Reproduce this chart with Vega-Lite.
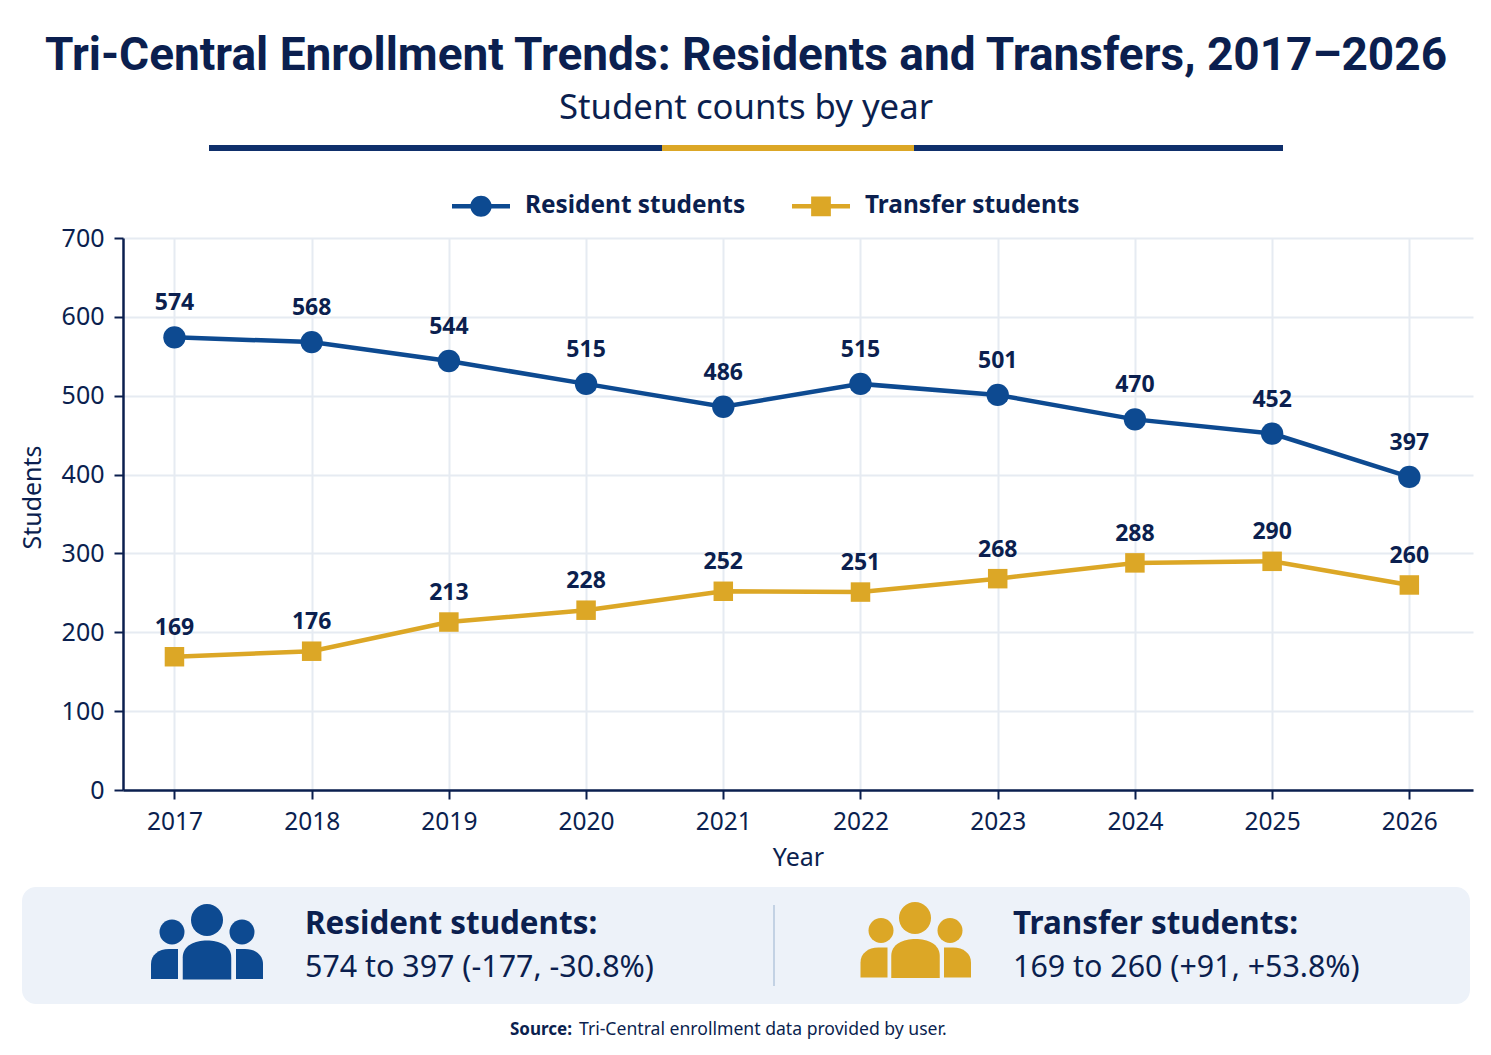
{"$schema":"https://vega.github.io/schema/vega-lite/v6.json","width":1350,"height":552,"autosize":"none","padding":{"left":123,"top":238,"right":18,"bottom":265},"background":"#ffffff","title":{"text":"Tri-Central Enrollment Trends: Residents and Transfers, 2017–2026","subtitle":"Student counts by year","anchor":"middle","frame":"group","dx":-52,"offset":18,"font":"Roboto","fontSize":46,"fontWeight":"bold","color":"#0b1f4f","subtitleFont":"Noto Sans","subtitleFontSize":34.7,"subtitleColor":"#0b1f4f","subtitlePadding":12},"config":{"view":{"stroke":null},"text":{"font":"Noto Sans","color":"#0b1f4f"}},"layer":[{"data":{"values":[{"year":2017,"series":"Resident students","students":574},{"year":2018,"series":"Resident students","students":568},{"year":2019,"series":"Resident students","students":544},{"year":2020,"series":"Resident students","students":515},{"year":2021,"series":"Resident students","students":486},{"year":2022,"series":"Resident students","students":515},{"year":2023,"series":"Resident students","students":501},{"year":2024,"series":"Resident students","students":470},{"year":2025,"series":"Resident students","students":452},{"year":2026,"series":"Resident students","students":397},{"year":2017,"series":"Transfer students","students":169},{"year":2018,"series":"Transfer students","students":176},{"year":2019,"series":"Transfer students","students":213},{"year":2020,"series":"Transfer students","students":228},{"year":2021,"series":"Transfer students","students":252},{"year":2022,"series":"Transfer students","students":251},{"year":2023,"series":"Transfer students","students":268},{"year":2024,"series":"Transfer students","students":288},{"year":2025,"series":"Transfer students","students":290},{"year":2026,"series":"Transfer students","students":260}]},"encoding":{"x":{"field":"year","type":"quantitative","scale":{"domain":[2016.625,2026.464],"nice":false,"zero":false},"axis":{"title":"Year","values":[2017,2018,2019,2020,2021,2022,2023,2024,2025,2026],"format":"d","grid":true,"gridColor":"#e6ebf2","gridWidth":2,"domainColor":"#0b1f4f","domainWidth":2.5,"tickColor":"#0b1f4f","tickWidth":2,"tickSize":9,"labelFont":"Noto Sans","labelFontSize":24.5,"labelColor":"#0b1f4f","labelPadding":11,"labelFlush":false,"titleFont":"Noto Sans","titleFontSize":25,"titleFontWeight":"normal","titleColor":"#0b1f4f","titlePadding":12}},"y":{"field":"students","type":"quantitative","scale":{"domain":[0,700],"nice":false},"axis":{"title":"Students","titleY":259,"values":[0,100,200,300,400,500,600,700],"grid":true,"gridColor":"#e6ebf2","gridWidth":2,"domainColor":"#0b1f4f","domainWidth":2.5,"tickColor":"#0b1f4f","tickWidth":2,"tickSize":9,"labelFont":"Noto Sans","labelFontSize":25,"labelColor":"#0b1f4f","labelPadding":10,"titleFont":"Noto Sans","titleFontSize":25,"titleFontWeight":"normal","titleColor":"#0b1f4f","titlePadding":16}}},"layer":[{"mark":{"type":"line","strokeWidth":4.5},"encoding":{"color":{"field":"series","type":"nominal","legend":null,"scale":{"domain":["Resident students","Transfer students"],"range":["#0d4a91","#dca726"]}}}},{"mark":{"type":"point","filled":true,"opacity":1},"encoding":{"size":{"field":"series","type":"ordinal","legend":null,"scale":{"domain":["Resident students","Transfer students"],"range":[500,380]}},"color":{"field":"series","type":"nominal","scale":{"domain":["Resident students","Transfer students"],"range":["#0d4a91","#dca726"]},"legend":{"title":null,"orient":"none","legendX":329,"legendY":-61,"direction":"horizontal","columns":2,"symbolSize":3364,"labelOffset":15,"labelLimit":400,"columnPadding":46,"labelFont":"Noto Sans","labelFontSize":24.4,"labelFontWeight":"bold","labelColor":"#0b1f4f","symbolStrokeWidth":0,"symbolOpacity":1,"encoding":{"symbols":{"shape":{"value":{"expr":"datum.value==='Resident students'?'M-1,-0.08L-0.36,-0.08A0.37,0.37 0 0 1 0.36,-0.08L1,-0.08L1,0.08L0.36,0.08A0.37,0.37 0 0 1 -0.36,0.08L-1,0.08Z':'M-1,-0.08L-0.34,-0.08L-0.34,-0.34L0.34,-0.34L0.34,-0.08L1,-0.08L1,0.08L0.34,0.08L0.34,0.34L-0.34,0.34L-0.34,0.08L-1,0.08Z'"}}}}}},"shape":{"field":"series","type":"nominal","legend":null,"scale":{"domain":["Resident students","Transfer students"],"range":["circle","square"]}}}},{"transform":[{"filter":"datum.series==='Resident students'"}],"mark":{"type":"text","dy":-34,"fontSize":23,"fontWeight":"bold","font":"Noto Sans","color":"#0b1f4f"},"encoding":{"text":{"field":"students","type":"quantitative"}}},{"transform":[{"filter":"datum.series==='Transfer students'"}],"mark":{"type":"text","dy":-29,"fontSize":23,"fontWeight":"bold","font":"Noto Sans","color":"#0b1f4f"},"encoding":{"text":{"field":"students","type":"quantitative"}}}],"resolve":{"legend":{"color":"independent"}}},{"layer":[{"data":{"values":[{}]},"mark":{"type":"rule","stroke":"#0f2f6b","strokeWidth":6},"encoding":{"x":{"datum":209,"type":"quantitative","scale":{"domain":[123,1473],"nice":false,"zero":false},"axis":null},"x2":{"datum":662},"y":{"datum":148,"type":"quantitative","scale":{"domain":[790,238],"nice":false,"zero":false},"axis":null}}},{"data":{"values":[{}]},"mark":{"type":"rule","stroke":"#dca726","strokeWidth":6},"encoding":{"x":{"datum":662,"type":"quantitative","scale":{"domain":[123,1473],"nice":false,"zero":false},"axis":null},"x2":{"datum":914},"y":{"datum":148,"type":"quantitative","scale":{"domain":[790,238],"nice":false,"zero":false},"axis":null}}},{"data":{"values":[{}]},"mark":{"type":"rule","stroke":"#0f2f6b","strokeWidth":6},"encoding":{"x":{"datum":914,"type":"quantitative","scale":{"domain":[123,1473],"nice":false,"zero":false},"axis":null},"x2":{"datum":1283},"y":{"datum":148,"type":"quantitative","scale":{"domain":[790,238],"nice":false,"zero":false},"axis":null}}},{"data":{"values":[{}]},"mark":{"type":"rect","fill":"#edf2f9","cornerRadius":14},"encoding":{"x":{"datum":22,"type":"quantitative","scale":{"domain":[123,1473],"nice":false,"zero":false},"axis":null},"x2":{"datum":1470},"y":{"datum":887,"type":"quantitative","scale":{"domain":[790,238],"nice":false,"zero":false},"axis":null},"y2":{"datum":1004}}},{"data":{"values":[{}]},"mark":{"type":"rule","stroke":"#c3d2e4","strokeWidth":2},"encoding":{"x":{"datum":774,"type":"quantitative","scale":{"domain":[123,1473],"nice":false,"zero":false},"axis":null},"y":{"datum":905,"type":"quantitative","scale":{"domain":[790,238],"nice":false,"zero":false},"axis":null},"y2":{"datum":986}}},{"data":{"values":[{"group":"resident","hx":207,"hy":920},{"group":"transfer","hx":915,"hy":918}]},"mark":{"type":"point","filled":true,"opacity":1,"size":1024,"shape":"circle"},"encoding":{"x":{"field":"hx","type":"quantitative","scale":{"domain":[123,1473],"nice":false,"zero":false},"axis":null},"y":{"field":"hy","type":"quantitative","scale":{"domain":[790,238],"nice":false,"zero":false},"axis":null},"color":{"field":"group","type":"nominal","legend":null,"scale":{"domain":["resident","transfer"],"range":["#0d4a91","#dca726"]}}}},{"data":{"values":[{"group":"resident","hx":172,"hy":932},{"group":"resident","hx":242,"hy":932},{"group":"transfer","hx":881,"hy":930.5},{"group":"transfer","hx":950,"hy":930.5}]},"mark":{"type":"point","filled":true,"opacity":1,"size":625,"shape":"circle"},"encoding":{"x":{"field":"hx","type":"quantitative","scale":{"domain":[123,1473],"nice":false,"zero":false},"axis":null},"y":{"field":"hy","type":"quantitative","scale":{"domain":[790,238],"nice":false,"zero":false},"axis":null},"color":{"field":"group","type":"nominal","legend":null,"scale":{"domain":["resident","transfer"],"range":["#0d4a91","#dca726"]}}}},{"data":{"values":[{"group":"resident","hx":207,"hy":960},{"group":"transfer","hx":915.5,"hy":958.5}]},"mark":{"type":"point","filled":true,"opacity":1,"size":2352,"shape":"M-1,0.8L-1,-0.1C-1,-0.6 -0.5,-0.8 0,-0.8C0.5,-0.8 1,-0.6 1,-0.1L1,0.8Z"},"encoding":{"x":{"field":"hx","type":"quantitative","scale":{"domain":[123,1473],"nice":false,"zero":false},"axis":null},"y":{"field":"hy","type":"quantitative","scale":{"domain":[790,238],"nice":false,"zero":false},"axis":null},"color":{"field":"group","type":"nominal","legend":null,"scale":{"domain":["resident","transfer"],"range":["#0d4a91","#dca726"]}}}},{"data":{"values":[{"group":"resident","hx":164.5,"hy":964},{"group":"transfer","hx":874,"hy":962.5}]},"mark":{"type":"point","filled":true,"opacity":1,"size":900,"shape":"M-0.9,1L-0.9,0C-0.9,-0.6 -0.4,-1 0.3,-1L0.9,-1L0.9,1Z"},"encoding":{"x":{"field":"hx","type":"quantitative","scale":{"domain":[123,1473],"nice":false,"zero":false},"axis":null},"y":{"field":"hy","type":"quantitative","scale":{"domain":[790,238],"nice":false,"zero":false},"axis":null},"color":{"field":"group","type":"nominal","legend":null,"scale":{"domain":["resident","transfer"],"range":["#0d4a91","#dca726"]}}}},{"data":{"values":[{"group":"resident","hx":249.5,"hy":964},{"group":"transfer","hx":957.5,"hy":962.5}]},"mark":{"type":"point","filled":true,"opacity":1,"size":900,"shape":"M0.9,1L0.9,0C0.9,-0.6 0.4,-1 -0.3,-1L-0.9,-1L-0.9,1Z"},"encoding":{"x":{"field":"hx","type":"quantitative","scale":{"domain":[123,1473],"nice":false,"zero":false},"axis":null},"y":{"field":"hy","type":"quantitative","scale":{"domain":[790,238],"nice":false,"zero":false},"axis":null},"color":{"field":"group","type":"nominal","legend":null,"scale":{"domain":["resident","transfer"],"range":["#0d4a91","#dca726"]}}}},{"data":{"values":[{"label":"Resident students:","tx":305,"ty":934},{"label":"Transfer students:","tx":1013,"ty":934}]},"mark":{"type":"text","align":"left","baseline":"alphabetic","fontSize":31.4,"fontWeight":"bold","font":"Noto Sans","color":"#0b1f4f"},"encoding":{"x":{"field":"tx","type":"quantitative","scale":{"domain":[123,1473],"nice":false,"zero":false},"axis":null},"y":{"field":"ty","type":"quantitative","scale":{"domain":[790,238],"nice":false,"zero":false},"axis":null},"text":{"field":"label","type":"nominal"}}},{"data":{"values":[{"label":"574 to 397 (-177, -30.8%)","tx":305,"ty":977},{"label":"169 to 260 (+91, +53.8%)","tx":1013,"ty":977}]},"mark":{"type":"text","align":"left","baseline":"alphabetic","fontSize":30.4,"font":"Noto Sans","color":"#0b1f4f"},"encoding":{"x":{"field":"tx","type":"quantitative","scale":{"domain":[123,1473],"nice":false,"zero":false},"axis":null},"y":{"field":"ty","type":"quantitative","scale":{"domain":[790,238],"nice":false,"zero":false},"axis":null},"text":{"field":"label","type":"nominal"}}},{"data":{"values":[{"label":"Source:","tx":510,"ty":1035}]},"mark":{"type":"text","align":"left","baseline":"alphabetic","fontSize":17,"fontWeight":"bold","font":"Noto Sans","color":"#0b1f4f"},"encoding":{"x":{"field":"tx","type":"quantitative","scale":{"domain":[123,1473],"nice":false,"zero":false},"axis":null},"y":{"field":"ty","type":"quantitative","scale":{"domain":[790,238],"nice":false,"zero":false},"axis":null},"text":{"field":"label","type":"nominal"}}},{"data":{"values":[{"label":"Tri-Central enrollment data provided by user.","tx":579,"ty":1035}]},"mark":{"type":"text","align":"left","baseline":"alphabetic","fontSize":17.6,"font":"Noto Sans","color":"#0b1f4f"},"encoding":{"x":{"field":"tx","type":"quantitative","scale":{"domain":[123,1473],"nice":false,"zero":false},"axis":null},"y":{"field":"ty","type":"quantitative","scale":{"domain":[790,238],"nice":false,"zero":false},"axis":null},"text":{"field":"label","type":"nominal"}}}]}],"resolve":{"scale":{"x":"independent","y":"independent","color":"independent"}}}
